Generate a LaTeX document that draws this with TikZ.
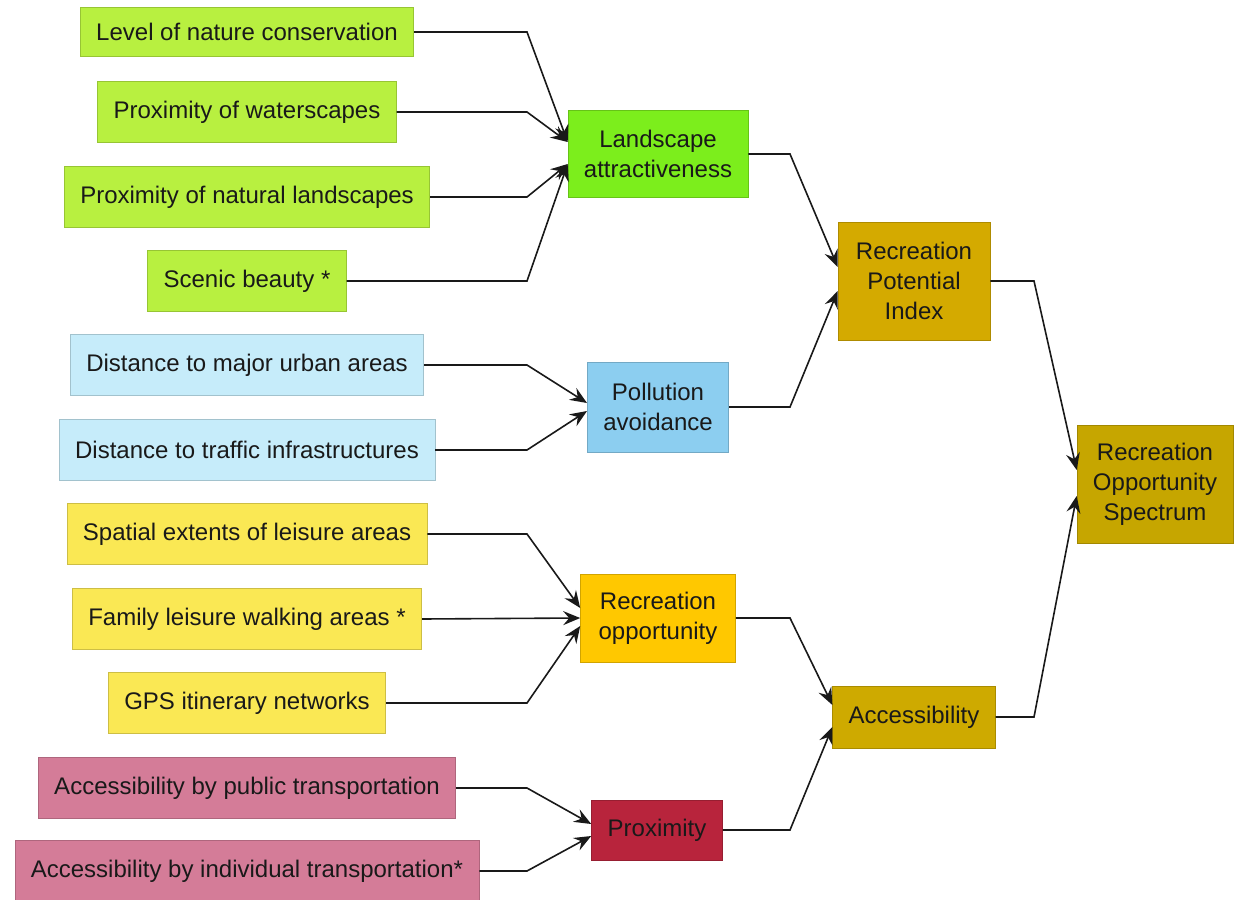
\documentclass[tikz,border=0pt]{standalone}
\usepackage{fontspec}
\setmainfont{Liberation Sans}
\usepackage{xcolor}
\usetikzlibrary{arrows.meta,positioning,calc}
\definecolor{leafgreen}{RGB}{184,240,64}
\definecolor{landgreen}{RGB}{124,238,28}
\definecolor{leafblue}{RGB}{198,236,250}
\definecolor{pollblue}{RGB}{140,206,240}
\definecolor{leafyellow}{RGB}{250,232,84}
\definecolor{recorange}{RGB}{255,200,0}
\definecolor{leafpink}{RGB}{212,124,152}
\definecolor{proxred}{RGB}{184,36,60}
\definecolor{rpigold}{RGB}{212,170,0}
\definecolor{accgold}{RGB}{206,170,0}
\definecolor{rosgold}{RGB}{198,166,0}

\begin{document}
\begin{tikzpicture}[
  x=0.5pt, y=-0.5pt,
  font=\fontsize{12}{15}\selectfont,
  box/.style={draw=#1!82!black, line width=0.3pt, fill=#1, align=center, text=black!90, minimum height=30.5pt, inner xsep=8pt, inner ysep=2pt},
  box/.default=white,
  >={Stealth[length=8.5pt,width=7pt,inset=3pt]},
  link/.style={->, draw=black!90, line width=0.8pt}]
\useasboundingbox (0,0) rectangle (1240,899);
% input indicators
\node[box=leafgreen, minimum height=24.5pt] (lnc) at (247,32) {Level of nature conservation};
\node[box=leafgreen] (pow) at (247,112) {Proximity of waterscapes};
\node[box=leafgreen] (pnl) at (247,197) {Proximity of natural landscapes};
\node[box=leafgreen] (sb) at (247,281) {Scenic beauty *};
\node[box=leafblue] (dmu) at (247,365) {Distance to major urban areas};
\node[box=leafblue] (dti) at (247,450) {Distance to traffic infrastructures};
\node[box=leafyellow] (sel) at (247,534) {Spatial extents of leisure areas};
\node[box=leafyellow] (flw) at (247,619) {Family leisure walking areas *};
\node[box=leafyellow] (gps) at (247,703) {GPS itinerary networks};
\node[box=leafpink] (abp) at (247,788) {Accessibility by public transportation};
\node[box=leafpink] (abi) at (247,871) {Accessibility by individual transportation*};
% sub-indices
\node[box=landgreen, minimum width=90pt, minimum height=43.5pt] (la) at (658,154) {Landscape\\attractiveness};
\node[box=pollblue, minimum width=70pt, minimum height=45pt] (pa) at (658,407) {Pollution\\avoidance};
\node[box=recorange, minimum width=77.5pt, minimum height=44pt] (ro) at (658,618) {Recreation\\opportunity};
\node[box=proxred, minimum width=65.5pt, minimum height=30pt] (px) at (657,830) {Proximity};
\node[box=rpigold, minimum width=76pt, minimum height=59pt] (rpi) at (914,281) {Recreation\\Potential\\Index};
\node[box=accgold, minimum width=80pt, minimum height=31pt] (acc) at (914,717) {Accessibility};
\node[box=rosgold, minimum width=77.5pt, minimum height=59pt] (ros) at (1155,484) {Recreation\\Opportunity\\Spectrum};
% bend columns
\coordinate (bl) at (527,0);
\coordinate (bm) at (790,0);
\coordinate (br) at (1034,0);
\draw[link] (lnc.east) -- (lnc.east -| bl) -- ([yshift=6pt]la.west);
\draw[link] (pow.east) -- (pow.east -| bl) -- ([yshift=6pt]la.west);
\draw[link] (pnl.east) -- (pnl.east -| bl) -- ([yshift=-5pt]la.west);
\draw[link] (sb.east) -- (sb.east -| bl) -- ([yshift=-5pt]la.west);
\draw[link] (dmu.east) -- (dmu.east -| bl) -- ([yshift=2pt]pa.west);
\draw[link] (dti.east) -- (dti.east -| bl) -- ([yshift=-2pt]pa.west);
\draw[link] (sel.east) -- (sel.east -| bl) -- ([yshift=5pt]ro.west);
\draw[link] (flw.east) -- (ro.west);
\draw[link] (gps.east) -- (gps.east -| bl) -- ([yshift=-4pt]ro.west);
\draw[link] (abp.east) -- (abp.east -| bl) -- ([yshift=3pt]px.west);
\draw[link] (abi.east) -- (abi.east -| bl) -- ([yshift=-3pt]px.west);
\draw[link] (la.east) -- (la.east -| bm) -- ([yshift=7pt]rpi.west);
\draw[link] (pa.east) -- (pa.east -| bm) -- ([yshift=-5pt]rpi.west);
\draw[link] (ro.east) -- (ro.east -| bm) -- ([yshift=6pt]acc.west);
\draw[link] (px.east) -- (px.east -| bm) -- ([yshift=-5pt]acc.west);
\draw[link] (rpi.east) -- (rpi.east -| br) -- ([yshift=7pt]ros.west);
\draw[link] (acc.east) -- (acc.east -| br) -- ([yshift=-6pt]ros.west);
\end{tikzpicture}
\end{document}
